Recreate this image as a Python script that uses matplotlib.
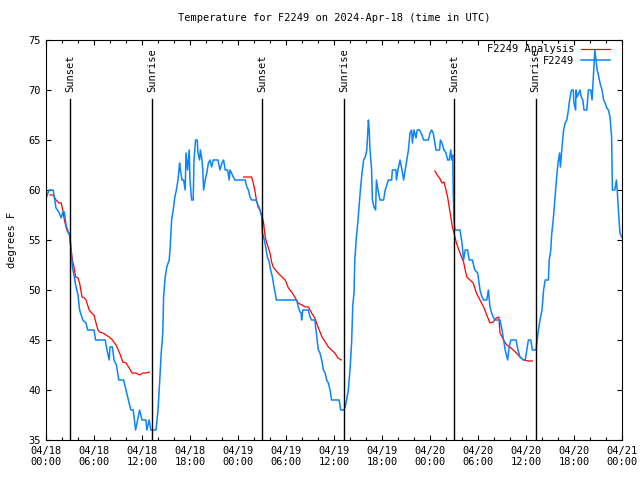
import numpy as np
import pandas as pd
import matplotlib
matplotlib.use('Agg')
import matplotlib.pyplot as plt
import matplotlib.dates as mdates

plt.rcParams['font.family'] = ['DejaVu Sans Mono']
plt.rcParams['font.size'] = 7.5

start = pd.Timestamp('2024-04-18 00:00')

# observed temperature (hours since start, degrees F)
obs_hours = [
    0.0, 0.2, 0.4, 0.9, 1.25, 1.6, 1.9, 2.1, 2.3, 2.5, 2.7, 3.0, 3.3, 3.5, 3.7, 4.0,
    4.2, 4.6, 5.0, 5.2, 6.0, 6.2, 7.4, 7.7, 7.9, 8.0, 8.3, 8.5, 8.8, 9.1, 9.7, 10.0,
    10.3, 10.6, 10.9, 11.2, 11.5, 11.7, 12.0, 12.5, 12.6, 12.9, 13.1, 13.75, 14.0, 14.2,
    14.4, 14.6, 14.7, 14.9, 15.1, 15.4, 15.5, 15.7, 15.9, 16.1, 16.3, 16.5, 16.7, 16.8,
    17.0, 17.2, 17.4, 17.5, 17.7, 17.9, 18.0, 18.2, 18.4, 18.5, 18.7, 18.9, 19.0, 19.2,
    19.3, 19.5, 19.6, 19.7, 19.9, 20.1, 20.3, 20.5, 20.7, 20.9, 21.5, 21.75, 22.0, 22.2,
    22.4, 22.7, 22.9, 23.0, 23.2, 23.4, 23.6, 24.9, 25.1, 25.3, 25.5, 25.7, 26.25, 26.4,
    26.75, 26.96, 27.04, 27.3, 27.46, 27.67, 27.9, 28.08, 28.3, 28.5, 28.65, 28.79, 31.33,
    31.54, 31.75, 31.9, 31.95, 32.1, 32.79, 33.0, 33.2, 33.6, 33.8, 34.04, 34.25, 34.46,
    34.67, 34.9, 35.08, 35.3, 35.5, 35.7, 36.65, 36.83, 37.25, 37.4, 37.58, 37.79, 38.0,
    38.2, 38.35, 38.5, 38.6, 38.8, 39.0, 39.2, 39.3, 39.5, 39.7, 39.9, 40.1, 40.3, 40.4,
    40.5, 40.7, 40.8, 41.0, 41.2, 41.3, 41.5, 41.75, 42.2, 42.4, 42.8, 43.2, 43.3, 43.75,
    43.8, 44.0, 44.25, 44.5, 44.7, 44.9, 45.1, 45.3, 45.5, 45.7, 45.8, 46.0, 46.25, 46.4,
    46.7, 47.0, 47.2, 47.8, 48.0, 48.2, 48.4, 48.6, 48.75, 49.2, 49.3, 49.5, 49.75, 50.0,
    50.2, 50.4, 50.6, 50.7, 50.85, 50.9, 51.0, 51.1, 51.75, 52.0, 52.2, 52.4, 52.7, 52.9,
    53.3, 53.6, 53.96, 54.25, 54.5, 54.7, 55.1, 55.3, 55.5, 55.7, 55.9, 56.1, 56.75, 57.0,
    57.2, 57.4, 57.7, 57.9, 58.1, 58.75, 59.0, 59.25, 59.7, 59.9, 60.1, 60.3, 60.6, 60.8,
    61.25, 61.5, 61.75, 62.0, 62.2, 62.4, 62.8, 62.9, 63.1, 63.2, 63.4, 63.6, 63.8, 64.0,
    64.2, 64.3, 64.5, 64.7, 64.9, 65.1, 65.3, 65.4, 65.6, 65.7, 65.9, 66.0, 66.2, 66.25,
    66.4, 66.6, 66.75, 66.9, 67.1, 67.25, 67.6, 67.8, 68.1, 68.25, 68.4, 68.6, 68.75, 68.9,
    69.0, 69.25, 69.5, 69.7, 69.9, 70.1, 70.3, 70.5, 70.7, 70.8, 71.1, 71.3, 71.4, 71.6,
    71.75, 71.95,
]
obs_temp = [
    59.1, 59.6, 60, 60, 58.2, 57.8, 57.2, 57.8, 57.8, 56.5, 56, 55.3, 52.3, 51.5, 50.5, 49.5,
    48, 47, 46.7, 46, 46, 45, 45, 43.7, 43, 44.3, 44.3, 43, 42.5, 41, 41, 40,
    39, 38, 38, 36, 37.2, 38, 37, 37, 36, 37, 36, 36, 38, 40.7,
    43.7, 45.7, 49.3, 51.3, 52.3, 53, 54, 57, 58, 59.3, 60, 61, 62.7, 62,
    61, 61, 60, 63.7, 62, 64, 61, 59, 59, 63, 65, 65, 63.7, 63,
    64, 63, 62, 60, 61, 61.7, 62.7, 63, 62.3, 63, 63, 62, 62.7, 63,
    62, 62, 61, 62, 61.7, 61.3, 61, 61, 60.3, 60, 59.3, 59, 59, 58.7,
    58, 57.3, 55.7, 55, 54.3, 53.3, 52.8, 52, 51.3, 50.3, 49.7, 49, 49,
    48.3, 47.8, 47.7, 47, 48, 48, 47.3, 47, 47, 45.7, 44, 43.7, 43,
    42, 41.7, 41, 40.7, 40, 39, 39, 38, 38, 38.3, 39, 40, 42,
    44.7, 48.5, 49.7, 53, 55.3, 57, 59, 60, 61.7, 63, 63.3, 64, 67, 66,
    64, 62, 59, 58.3, 58, 61, 60, 59, 59, 60, 61, 61, 62, 62,
    61, 62, 63, 62, 61, 62, 63, 64, 65.7, 66, 64.7, 66, 65.2, 66,
    66, 65.5, 65, 65, 65.7, 66, 65.7, 64.7, 64, 64, 65, 64.7, 64, 63.7,
    63, 63, 64, 63, 63.5, 60, 57, 56, 56, 54.7, 53, 54, 54, 53,
    53, 52, 51.7, 50, 49.3, 49, 49, 50, 48.3, 47.7, 47.3, 47, 47, 46,
    45, 44, 43, 44.3, 45, 45, 44, 43.3, 43, 43, 44, 45, 45, 44,
    44, 45.7, 47, 48, 50, 51, 51, 53, 54, 55.5, 57, 59, 61, 62.7,
    63.7, 62.3, 64.3, 66, 66.7, 67, 68, 68.7, 69.7, 70, 70, 68.7, 68, 70,
    69.3, 69.7, 70, 69.3, 69, 68, 68, 70, 70, 69, 71, 74, 73, 72,
    71.7, 70.7, 70, 69, 68.7, 68.2, 68, 67.3, 65.3, 60, 60, 61, 60, 57.3,
    55.7, 55.3,
]

# analysis temperature (NaN separates the three runs)
ana_hours = [
    0.5, 0.9, 1.25, 1.6, 1.9, 2.1, 2.3, 2.5, 2.7, 2.9, 3.1, 3.3, 3.5, 3.7, 4.0, 4.2,
    4.5, 4.8, 5.0, 5.2, 5.4, 5.7, 6.0, 6.25, 6.5, 6.7, 7.1, 7.5, 7.9, 8.3, 8.75, 9.2,
    9.6, 10.0, 10.4, 10.75, 11.25, 11.7, 12.1, 12.5, 12.9,
    np.nan,
    24.7, 25.7, 25.9, 26.1, 26.3, 26.5, 26.75, 27.04, 27.2, 27.4, 27.6, 27.8, 28.0, 28.2,
    28.4, 28.7, 29.0, 29.5, 29.9, 30.3, 30.7, 31.1, 31.5, 32.0, 32.4, 32.8, 33.2, 33.6,
    34.0, 34.5, 34.9, 35.3, 35.7, 36.1, 36.5, 36.9,
    np.nan,
    48.6, 48.9, 49.2, 49.5, 49.75, 50.0, 50.2, 50.4, 50.6, 50.8, 51.0, 51.3, 51.75, 52.2,
    52.4, 52.6, 53.0, 53.4, 53.8, 54.25, 54.7, 55.1, 55.5, 55.9, 56.3, 56.6, 56.75, 57.2,
    57.6, 58.0, 58.4, 58.8, 59.25, 59.7, 60.3, 60.8,
]
ana_temp = [
    59.5, 59.5, 59, 58.7, 58.7, 58, 57, 56.3, 55.8, 55.7, 54.3, 53, 52.3, 51.3, 51.2, 50.7,
    49.3, 49.2, 49, 48.5, 48, 47.7, 47.5, 46.7, 46, 45.8, 45.7, 45.5, 45.3, 45, 44.5, 43.7,
    42.8, 42.7, 42.2, 41.7, 41.7, 41.5, 41.7, 41.7, 41.8,
    np.nan,
    61.3, 61.3, 60.7, 60, 59, 58.3, 58, 57.3, 56.7, 55.3, 54.7, 54.2, 53.7, 52.8,
    52.3, 52, 51.7, 51.3, 51, 50.2, 49.8, 49.3, 48.7, 48.5, 48.3, 48.3, 47.7, 47.2,
    46.3, 45.3, 44.8, 44.3, 44, 43.7, 43.2, 43,
    np.nan,
    61.9, 61.5, 61.2, 60.7, 60.8, 60, 59.3, 58.3, 57.3, 56.3, 55.7, 54.7, 53.7, 52.8,
    52, 51.3, 51, 50.7, 49.7, 49, 48.3, 47.5, 46.7, 46.8, 47.2, 47.3, 45.7, 45,
    44.5, 44.3, 44, 43.7, 43.3, 43, 42.9, 42.9,
]

sun_hours = [3.04, 13.29, 27.04, 37.27, 51.04, 61.2]
sun_labels = ['Sunset', 'Sunrise', 'Sunset', 'Sunrise', 'Sunset', 'Sunrise']

def to_time(hours):
    return start + pd.to_timedelta(np.array(hours, dtype=float), unit='h')

fig = plt.figure(figsize=(6.4, 4.8), dpi=100)
ax = fig.add_axes([46 / 640, 40 / 480, 576 / 640, 400 / 480])

ax.plot(to_time(ana_hours), ana_temp, color='#ff0000', lw=0.9, label='F2249 Analysis')
ax.plot(to_time(obs_hours), obs_temp, color='#0a84ff', lw=1.1, label='F2249')

for h, lab in zip(sun_hours, sun_labels):
    t = to_time([h])[0]
    ax.axvline(t, ymin=0, ymax=0.8525, color='black', lw=1.0)
    ax.text(t, 0.87, lab, transform=ax.get_xaxis_transform(), rotation=90,
            ha='center', va='bottom')

ax.set_xlim(start, start + pd.Timedelta(hours=72))
ax.set_ylim(35, 75)
ax.set_yticks(range(35, 76, 5))
ax.xaxis.set_major_locator(mdates.HourLocator(byhour=range(0, 24, 6)))
ax.xaxis.set_minor_locator(mdates.HourLocator(byhour=range(0, 24, 2)))
ax.xaxis.set_major_formatter(mdates.DateFormatter('%m/%d\n%H:%M'))
ax.tick_params(which='both', direction='in', top=True, right=True, labelsize=7.5, pad=4)
ax.tick_params(which='major', length=3.6, width=0.8)
ax.tick_params(which='minor', length=2.2, width=0.8)
for s in ax.spines.values():
    s.set_linewidth(0.8)

ax.set_title('Temperature for F2249 on 2024-Apr-18 (time in UTC)', fontsize=7.5, pad=14)
ax.set_ylabel('degrees F', fontsize=7.5, labelpad=8)

ax.legend(loc='upper right', bbox_to_anchor=(0.986, 1.0), frameon=False,
          markerfirst=False, handlelength=2.8, borderaxespad=0, labelspacing=0.15,
          handletextpad=0.6, fontsize=7.5)

fig.savefig('out.png', dpi=100)
